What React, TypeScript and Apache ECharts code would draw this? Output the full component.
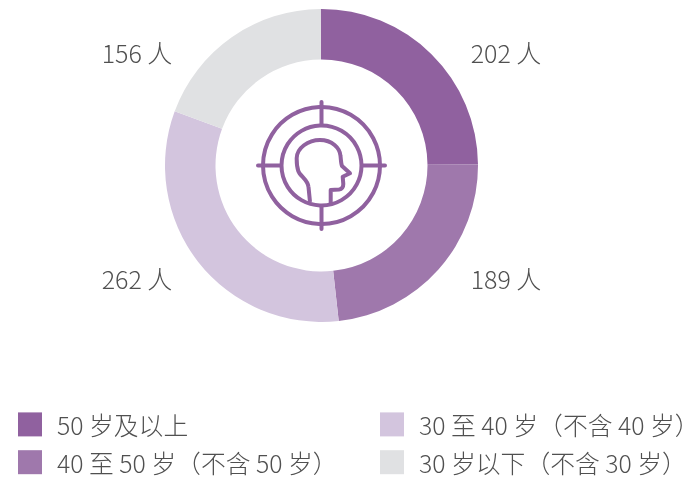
import React, { useEffect, useRef } from "react";
import * as echarts from "echarts";

const categories = ["50 岁及以上", "40 至 50 岁（不含 50 岁）", "30 至 40 岁（不含 40 岁）", "30 岁以下（不含 30 岁）"];
const values = [202, 189, 262, 156];
const colors = ["#90619f", "#9f78ac", "#d3c5de", "#e0e1e3"];
const unit = "人";

const FONT = '"Noto Sans CJK SC", "Noto Sans", sans-serif';
const TEXT = "#505050";
const ICON = "#90619f";

const headPath =
  "M310 202 L308.5 187 C308 180 300 176 298.3 171 C296.5 166 296.7 162 296.7 158 C297 148 308 140 320 140 C332 140 340 148 340.5 156 C341 160 341 164 342 166 L350 173.3 L342.7 176.7 L343.3 184 C343.3 187 342 189 339 189.5 L330.7 190 L330.7 203.5";
echarts.graphic.registerShape("headIcon", echarts.graphic.extendPath(headPath, {}) as any);

export default function App() {
  const ref = useRef<HTMLDivElement>(null);
  useEffect(() => {
    const chart = echarts.init(ref.current!, undefined, { renderer: "svg" });
    const legendBase = {
      orient: "vertical" as const,
      top: 412,
      itemWidth: 24,
      itemHeight: 24,
      itemGap: 13,
      padding: 0,
      icon: "rect",
      selectedMode: false,
      textStyle: { fontFamily: FONT, fontSize: 24.8, lineHeight: 18, color: TEXT, fontWeight: 300, padding: [0, 0, 3, 10] },
    };
    const iconLine = { stroke: ICON, lineWidth: 4, lineCap: "round" as const };
    const ringStyle = { fill: "transparent", stroke: ICON, lineWidth: 4 };
    const cx = 321.5;
    const cy = 165.5;
    chart.setOption({
      animation: false,
      legend: [
        { ...legendBase, left: 18, data: categories.slice(0, 2) },
        { ...legendBase, left: 380, data: categories.slice(2) },
      ],
      series: [
        {
          type: "pie",
          center: [cx, cy],
          radius: [106, 156.5],
          startAngle: 90.3,
          clockwise: true,
          silent: true,
          data: categories.map((name, i) => ({ name, value: values[i], itemStyle: { color: colors[i] } })),
          label: {
            show: true,
            formatter: (p: any) => `${p.value} ${unit}`,
            fontFamily: FONT,
            fontSize: 25,
            fontWeight: 300,
            color: TEXT,
            align: "center",
            verticalAlign: "middle",
          },
          labelLine: { show: false },
          labelLayout: (p: any) => ({
            x: p.dataIndex < 2 ? 506 : 137,
            y: p.dataIndex === 0 || p.dataIndex === 3 ? 52 : 278,
            align: "center",
            verticalAlign: "middle",
          }),
        },
      ],
      graphic: [
        { type: "circle", shape: { cx, cy, r: 58.5 }, style: ringStyle },
        { type: "circle", shape: { cx, cy, r: 40 }, style: ringStyle },
        { type: "line", shape: { x1: cx, y1: 102, x2: cx, y2: 125 }, style: iconLine },
        { type: "line", shape: { x1: cx, y1: 206, x2: cx, y2: 229 }, style: iconLine },
        { type: "line", shape: { x1: 258, y1: cy, x2: 281, y2: cy }, style: iconLine },
        { type: "line", shape: { x1: 362, y1: cy, x2: 385, y2: cy }, style: iconLine },
        { type: "headIcon", x: 0, y: 0, style: { fill: "transparent", stroke: ICON, lineWidth: 4, lineJoin: "round" } },
      ],
    });
    return () => chart.dispose();
  }, []);
  return <div ref={ref} style={{ position: "fixed", left: 0, top: 0, width: 690, height: 477 }} />;
}
